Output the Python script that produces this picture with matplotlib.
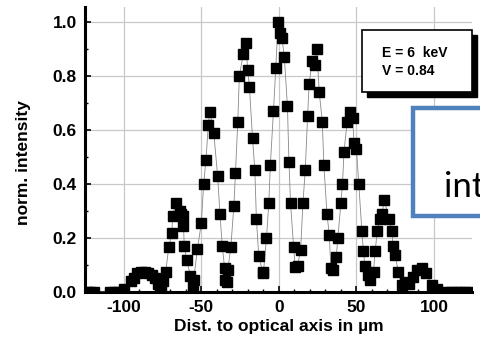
import numpy as np
import matplotlib
matplotlib.use('Agg')
import matplotlib.pyplot as plt
from matplotlib.patches import Rectangle

plt.rcParams['font.family'] = ['Liberation Sans', 'DejaVu Sans']
plt.rcParams['axes.unicode_minus'] = False

# distance to optical axis (um) and normalised intensity
dist = [-124, -121.5, -119, -109, -106, -103, -100,
        -95.5, -93.5, -91.5, -89, -86.5, -84.5, -82, -80, -78, -76, -74.5, -73,
        -71, -69, -68.5, -66.5, -64, -63, -62, -61.5, -61, -59.5, -57, -55.5, -55,
        -52.5, -50, -48.5, -47, -45.5, -44.5, -42, -39.5, -38, -36.5, -35, -34.5,
        -33.5, -33, -31, -29, -28, -26.5, -25.5, -23, -21.5, -20, -19, -17, -15.5,
        -14.5, -13, -10.5, -10, -8, -6.5, -5.5, -3.5, -2, -0.5, 0.5, 2, 3.5, 5.5,
        6.5, 7.5, 9.5, 10.5, 12, 14, 15.5, 17, 18.5, 19.5, 21.5, 23, 24.5, 26, 28,
        29, 31, 32.5, 33.5, 35, 37, 38, 40, 41, 42, 44, 46, 47.5, 48.5, 50, 51.5,
        53.5, 54.5, 55.5, 57.5, 59, 61, 62, 63.5, 65, 66.5, 68, 71, 73, 73.5, 75,
        77, 79.5, 81.5, 84, 86.5, 89, 92, 95, 98.5, 102,
        108, 111, 114, 117, 120, 123]
intensity = [0, 0, 0, 0, 0, 0, 0.012,
             0.04, 0.05, 0.07, 0.075, 0.075, 0.07, 0.062, 0.05, 0.03, 0.015, 0.04, 0.074,
             0.165, 0.22, 0.28, 0.33, 0.30, 0.29, 0.28, 0.245, 0.17, 0.12, 0.06, 0.02, 0.044,
             0.16, 0.255, 0.40, 0.49, 0.62, 0.667, 0.59, 0.43, 0.29, 0.17, 0.09, 0.045,
             0.037, 0.08, 0.165, 0.32, 0.44, 0.63, 0.80, 0.88, 0.92, 0.82, 0.76, 0.57, 0.45,
             0.27, 0.135, 0.074, 0.07, 0.20, 0.33, 0.47, 0.67, 0.83, 1.0, 0.96, 0.94, 0.87, 0.69,
             0.48, 0.33, 0.165, 0.093, 0.096, 0.155, 0.33, 0.45, 0.65, 0.77, 0.855, 0.84, 0.90, 0.74, 0.63,
             0.47, 0.29, 0.21, 0.09, 0.08, 0.13, 0.20, 0.33, 0.40, 0.52, 0.63, 0.667, 0.645, 0.55, 0.53, 0.40,
             0.226, 0.15, 0.095, 0.063, 0.044, 0.074, 0.15, 0.226, 0.27, 0.29, 0.34, 0.27, 0.226, 0.17, 0.137,
             0.074, 0.026, 0.037, 0.03, 0.055, 0.08, 0.089, 0.07, 0.026, 0.012,
             0, 0, 0, 0, 0, 0]

xticks = [-100, -50, 0, 50, 100]
yticks = [0.0, 0.2, 0.4, 0.6, 0.8, 1.0]

fig = plt.figure(figsize=(4.81, 3.46), dpi=100)
ax = fig.add_axes([85/481, 54/346, 387/481, 285/346])

ax.plot(dist, intensity, color='#888888', lw=0.6, marker='s', ms=6.6,
        mfc='black', mec='black', zorder=3)

ax.set_xlim(-125, 124.5)
ax.set_ylim(0, 1.055)
ax.set_xticks(xticks)
ax.set_yticks(yticks)
ax.set_xticks(np.arange(-120, 121, 10), minor=True)
ax.set_yticks(np.arange(0.1, 1.0, 0.2), minor=True)
ax.set_yticklabels(['%.1f' % v for v in yticks])
ax.grid(True, which='major', color='#c8c8c8', lw=0.9)
ax.set_axisbelow(True)

for s in ['top', 'right']:
    ax.spines[s].set_visible(False)
for s in ['left', 'bottom']:
    ax.spines[s].set_linewidth(2.2)

ax.tick_params(which='major', direction='in', length=4, width=1.2, labelsize=12.5, pad=6)
ax.tick_params(which='minor', direction='in', length=2.5, width=1.0)
for lab in ax.get_xticklabels() + ax.get_yticklabels():
    lab.set_fontweight('bold')

ax.set_xlabel('Dist. to optical axis in µm', fontsize=12.5, fontweight='bold', labelpad=3)
fig.text(24/481, (346-163)/346, 'norm. intensity', rotation=90, fontsize=12.5,
         fontweight='bold', ha='center', va='center')

# framed annotation box with drop shadow
fig.patches.append(Rectangle((367/481, (346-97)/346), 110/481, 62/346, transform=fig.transFigure,
                             facecolor='black', edgecolor='black', zorder=5))
fig.patches.append(Rectangle((362/481, (346-92)/346), 110/481, 62/346, transform=fig.transFigure,
                             facecolor='white', edgecolor='black', lw=1.2, zorder=6))
fig.text(382/481, (346-57)/346, 'E = 6  keV', fontsize=10, fontweight='bold', zorder=7)
fig.text(382/481, (346-75)/346, 'V = 0.84', fontsize=10, fontweight='bold', zorder=7)

# blue callout box cut off at the right edge
fig.patches.append(Rectangle((413/481, (346-216)/346), 0.3, 108/346, transform=fig.transFigure,
                             facecolor='white', edgecolor='#4f81bd', lw=3.2, zorder=8))
fig.text(444/481, (346-197)/346, 'int', fontsize=25, family=['Lato', 'DejaVu Sans'],
         va='baseline', zorder=9)

fig.savefig('out.png', dpi=100)
